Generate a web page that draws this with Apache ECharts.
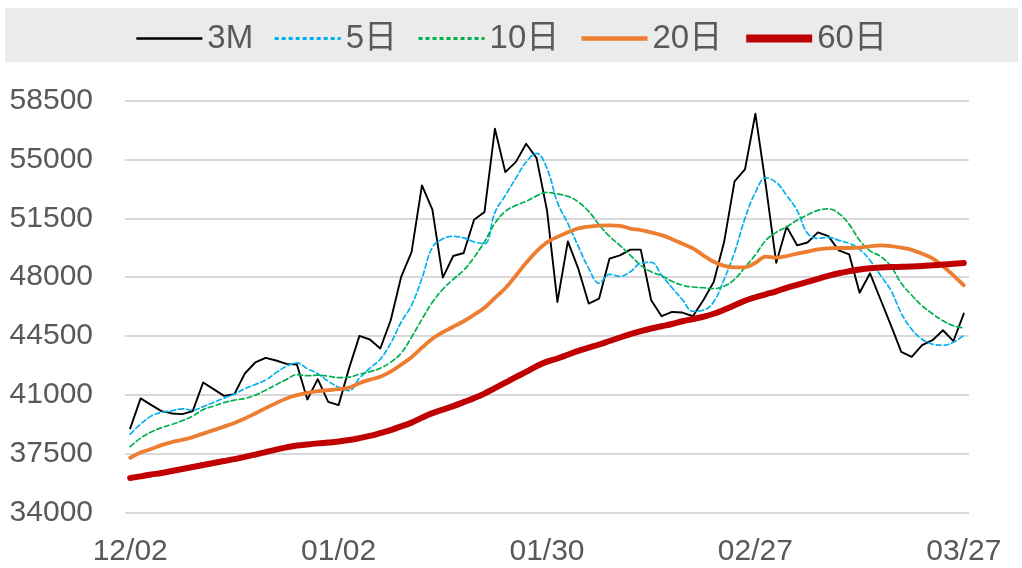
<!DOCTYPE html>
<html><head><meta charset="utf-8">
<script src="https://cdn.jsdelivr.net/npm/echarts@6/dist/echarts.min.js"></script>
<style>html,body{margin:0;padding:0;background:#fff}#c{width:1022px;height:568px}</style>
</head><body><div id="c"></div>
<script>
const dates = [
 '12/02','12/03','12/04','12/05','12/06','12/09','12/10','12/11','12/12','12/13',
 '12/16','12/17','12/18','12/19','12/20','12/23','12/24','12/27','12/30','12/31',
 '01/02','01/03','01/06','01/07','01/08','01/09','01/10','01/13','01/14','01/15',
 '01/16','01/17','01/20','01/21','01/22','01/23','01/24','01/27','01/28','01/29',
 '01/30','01/31','02/03','02/04','02/05','02/06','02/07','02/10','02/11','02/12',
 '02/13','02/14','02/17','02/18','02/19','02/20','02/21','02/24','02/25','02/26',
 '02/27','02/28','03/03','03/04','03/05','03/06','03/07','03/10','03/11','03/12',
 '03/13','03/14','03/17','03/18','03/19','03/20','03/21','03/24','03/25','03/26',
 '03/27'];
const yTicks = {min: 34000, max: 58500, step: 3500};
const legendNames = ['3M', '5日', '10日', '20日', '60日'];

const price3M = [39015,40796,40416,40042,39905,39864,40042,41745,41347,40950,
 41051,42279,42932,43205,43051,42849,42813,40736,41941,40594,
 40398,42582,44511,44297,43763,45443,48013,49496,53455,52013,
 47977,49259,49437,51419,51870,56820,54244,54838,55930,55075,
 51971,46529,50131,48511,46434,46731,49105,49300,49639,49639,
 46630,45680,45935,45900,45680,46630,47716,50102,53692,54405,
 57710,53455,48855,51004,49894,50060,50665,50440,49597,49360,
 47075,48232,46689,45146,43561,43265,43959,44256,44849,44196,
 45840];
const ma5 = [38677,39270,39745,39965,40060,40178,40101,40309,40558,40813,
 41051,41377,41626,41882,42327,42712,42908,42564,42267,41822,
 41466,41259,42000,42594,43128,44078,45324,46333,47935,49775,
 50280,50428,50339,50102,49983,51852,52861,53870,54850,55354,
 54464,52446,51200,49835,48529,47639,48173,48054,48321,48825,
 48885,48113,47372,46659,45977,46036,46541,47876,49478,51496,
 53039,53900,53633,52861,51971,50606,50309,50369,50191,50013,
 49657,49004,48113,47223,45858,44908,44315,44018,43959,44137,
 44552];
const ma10 = [37935,38439,38795,39062,39252,39478,39745,40131,40339,40546,
 40695,40796,40991,41288,41615,41923,42208,42149,42178,42119,
 42030,42060,42238,42386,42594,42950,43484,44434,45502,46511,
 47282,47876,48410,49182,50102,51200,51912,52268,52505,52832,
 53039,52950,52802,52476,51912,51111,50428,49894,49300,48707,
 48321,48084,47757,47520,47419,47372,47324,47461,47876,48588,
 49330,50191,50665,50992,51378,51704,51971,52060,51793,51140,
 50191,49567,49241,48648,47639,46926,46303,45828,45413,45116,
 44986];
const ma20 = [37270,37579,37787,38024,38202,38333,38499,38706,38914,39122,
 39342,39608,39905,40220,40517,40796,40991,41128,41229,41288,
 41347,41437,41704,41911,42089,42386,42802,43247,43811,44345,
 44730,45057,45383,45769,46185,46778,47342,48084,48855,49538,
 50072,50398,50665,50903,51010,51063,51081,51051,50885,50802,
 50665,50499,50262,49983,49716,49300,48915,48677,48588,48588,
 48855,49223,49164,49259,49401,49520,49657,49716,49734,49734,
 49763,49835,49894,49852,49757,49627,49389,49122,48648,48113,
 47520];
const ma60 = [36065,36166,36273,36362,36481,36600,36718,36837,36956,37074,
 37193,37324,37460,37608,37757,37887,37994,38065,38125,38172,
 38232,38321,38439,38570,38736,38914,39134,39359,39656,39923,
 40131,40339,40576,40813,41080,41407,41733,42060,42374,42712,
 42980,43170,43395,43621,43811,44000,44208,44416,44612,44790,
 44950,45087,45217,45383,45514,45650,45828,46066,46333,46600,
 46808,46986,47164,47372,47550,47728,47906,48084,48232,48351,
 48452,48529,48570,48600,48618,48636,48665,48707,48754,48796,
 48843];

const font = "'Liberation Sans', Arial, 'Noto Sans CJK SC', sans-serif";
const grey = '#595959';
const colors = ['#000000', '#00b0f0', '#00b050', '#ed7d31', '#c00000'];
const widths = [1.9, 1.7, 1.7, 3.8, 6];
const legendWidths = [2.5, 3, 3, 4.5, 8];
const types = ['solid', [5, 3], [5, 3], 'solid', 'solid'];
const smooths = [false, 0.4, 0.4, 0.4, 0.4];
const allData = [price3M, ma5, ma10, ma20, ma60];

const chart = echarts.init(document.getElementById('c'), null, {renderer: 'canvas'});
chart.setOption({
  animation: false,
  graphic: [{type: 'rect', shape: {x: 5, y: 8, width: 1013, height: 54},
    style: {fill: '#ebebeb'}, z: -10, silent: true}],
  legend: {
    top: 17, left: 'center', itemWidth: 66, itemHeight: 14, itemGap: 20,
    itemStyle: {opacity: 0},
    textStyle: {fontSize: 33, color: grey, fontFamily: font},
    data: legendNames.map((n, i) => ({
      name: n,
      itemStyle: {opacity: 0},
      lineStyle: {width: legendWidths[i], color: colors[i],
        type: i === 1 || i === 2 ? [4, 3] : 'solid', cap: 'butt'}
    }))
  },
  grid: {left: 125, right: 53, top: 100.5, bottom: 55.2},
  xAxis: {
    type: 'category', data: dates, boundaryGap: true,
    axisLine: {show: false}, axisTick: {show: false},
    axisLabel: {interval: 19, margin: 24, fontSize: 30, color: grey, fontFamily: font}
  },
  yAxis: {
    type: 'value', min: yTicks.min, max: yTicks.max, interval: yTicks.step,
    axisLine: {show: false}, axisTick: {show: false},
    axisLabel: {margin: 32, fontSize: 30, color: grey, fontFamily: font,
      formatter: v => String(v)},
    splitLine: {lineStyle: {color: '#d9d9d9', width: 2}}
  },
  series: legendNames.map((n, i) => ({
    name: n, type: 'line', data: allData[i], showSymbol: false, symbol: 'none',
    smooth: smooths[i],
    lineStyle: {color: colors[i], width: widths[i], type: types[i], cap: 'round', join: 'round'},
    itemStyle: {color: colors[i]}
  }))
});
</script></body></html>
